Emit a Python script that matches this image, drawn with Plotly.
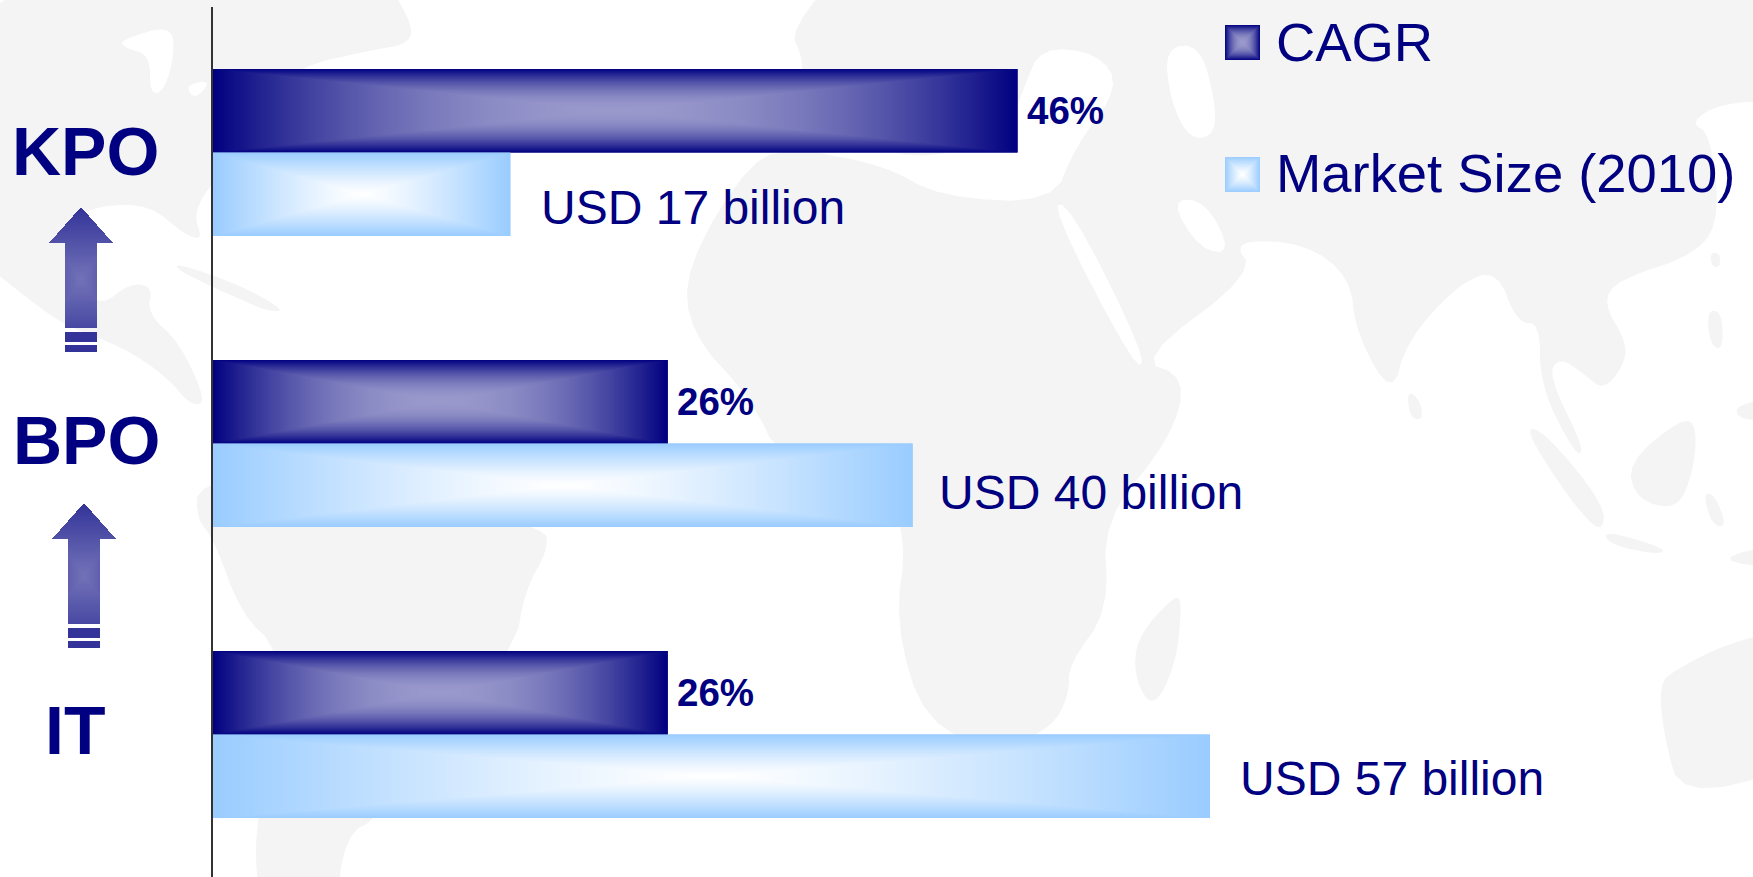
import base64
import struct
import zlib

import numpy as np
import plotly.graph_objects as go

# ---------- data ----------
categories = ["IT", "BPO", "KPO"]
cagr_values = [26, 26, 46]
market_values = [57, 40, 17]
cagr_labels = ["26%", "26%", "46%"]
market_labels = ["USD 57 billion", "USD 40 billion", "USD 17 billion"]
series_names = ["CAGR", "Market Size (2010)"]

# ---------- layout constants ----------
W, H = 1753, 877
PLOT_L, PLOT_T = 213, 7
PX_PER_UNIT = 17.49
BAND_PX = 291
BAR_PX = 83.5
NAVY = "#000080"
FONT = "Liberation Sans"
x_max = (W - PLOT_L) / PX_PER_UNIT
y_top = 2.5
y_bottom = y_top - (H - PLOT_T) / BAND_PX
bargap = 1 - 2 * BAR_PX / BAND_PX
thick = BAR_PX / BAND_PX


def px(x):
    return (x - PLOT_L) / (W - PLOT_L)


def py(y):
    return 1 - (y - PLOT_T) / (H - PLOT_T)


# ---------- png helpers ----------
def png_uri(rgba):
    h, w = rgba.shape[:2]
    raw = b"".join(b"\x00" + rgba[i].tobytes() for i in range(h))

    def chunk(tag, data):
        body = tag + data
        return struct.pack(">I", len(data)) + body + struct.pack(">I", zlib.crc32(body) & 0xffffffff)

    blob = (b"\x89PNG\r\n\x1a\n" + chunk(b"IHDR", struct.pack(">IIBBBBB", w, h, 8, 6, 0, 0, 0))
            + chunk(b"IDAT", zlib.compress(raw, 9)) + chunk(b"IEND", b""))
    return "data:image/png;base64," + base64.b64encode(blob).decode()


def path_gradient(w, h, edge, centre, power=2.0):
    u = np.abs((np.arange(w) + 0.5) / w * 2 - 1)[None, :]
    v = np.abs((np.arange(h) + 0.5) / h * 2 - 1)[:, None]
    t = (np.maximum(u, v) ** power)[..., None]
    rgb = np.array(centre) * (1 - t) + np.array(edge) * t
    a = np.full((h, w, 1), 255.0)
    return np.concatenate([rgb, a], axis=2).round().astype(np.uint8)


def arrow_rgba(w, h, head_h, shaft_hw, shaft_h, s1, s2):
    img = np.zeros((h, w, 4), dtype=float)
    dark, light = np.array([0x33, 0x33, 0x99]), np.array([0x72, 0x72, 0xB8])
    cx = w / 2
    for r in range(h):
        for c in range(w):
            dx = abs(c + 0.5 - cx)
            y = r + 0.5
            inside = False
            if y < head_h:
                inside = dx <= (y / head_h) * cx
            elif y < shaft_h:
                inside = dx <= shaft_hw
            if inside:
                t = abs(y - shaft_h * 0.6) / (shaft_h * 0.6)
                t = max(min(t, 1), dx / cx * 0.6)
                img[r, c, :3] = light * (1 - t) + dark * t
                img[r, c, 3] = 255
            elif (s1[0] <= y < s1[1] or s2[0] <= y < s2[1]) and dx <= shaft_hw:
                img[r, c, :3] = dark
                img[r, c, 3] = 255
    return img.round().astype(np.uint8)


CAGR_EDGE, CAGR_CENTRE = (0, 0, 128), (153, 153, 204)
MKT_EDGE, MKT_CENTRE = (153, 204, 255), (255, 255, 255)
CAGR_POWER, MKT_POWER = 2.0, 1.25

# ---------- traces ----------
fig = go.Figure()
fig.add_trace(go.Bar(name=series_names[1], y=categories, x=market_values, orientation="h",
                     marker=dict(color="#99CCFF", line=dict(width=0)), showlegend=False))
fig.add_trace(go.Bar(name=series_names[0], y=categories, x=cagr_values, orientation="h",
                     marker=dict(color=NAVY, line=dict(width=0)), showlegend=False))

images = []
annots = []

# gradient skins drawn on each bar through the data axes
IMG_H = 84
for i in range(len(categories)):
    images.append(dict(source=png_uri(path_gradient(max(int(round(cagr_values[i] * PX_PER_UNIT)), 2), IMG_H, CAGR_EDGE, CAGR_CENTRE, CAGR_POWER)),
                       xref="x", yref="y", x=0, y=i + thick, sizex=cagr_values[i], sizey=thick,
                       xanchor="left", yanchor="top", sizing="stretch", layer="above"))
    images.append(dict(source=png_uri(path_gradient(max(int(round(market_values[i] * PX_PER_UNIT)), 2), IMG_H, MKT_EDGE, MKT_CENTRE, MKT_POWER)),
                       xref="x", yref="y", x=0, y=i, sizex=market_values[i], sizey=thick,
                       xanchor="left", yanchor="top", sizing="stretch", layer="above"))

# data labels
cagr_shift = [(7, 0), (7, 0), (7, 0)]
market_shift = [(28, -2), (24, -7), (29, -13)]
for i in range(len(categories)):
    annots.append(dict(x=cagr_values[i], y=i + thick / 2, xref="x", yref="y", text=cagr_labels[i],
                       showarrow=False, xanchor="left", yanchor="middle",
                       xshift=cagr_shift[i][0], yshift=cagr_shift[i][1],
                       font=dict(family=FONT, size=38.5, color=NAVY, weight="bold")))
    annots.append(dict(x=market_values[i], y=i - thick / 2, xref="x", yref="y", text=market_labels[i],
                       showarrow=False, xanchor="left", yanchor="middle",
                       xshift=market_shift[i][0], yshift=market_shift[i][1],
                       font=dict(family=FONT, size=48, color=NAVY)))

# category labels
cat_pos = [(75, 5), (86, 4), (85.5, 2)]
for i, cat in enumerate(categories):
    annots.append(dict(x=px(cat_pos[i][0]), y=i, xref="paper", yref="y", text=cat, showarrow=False,
                       xanchor="center", yanchor="middle", yshift=cat_pos[i][1],
                       font=dict(family=FONT, size=68, color=NAVY, weight="bold")))

# legend
legend_rows = [(25, 42, CAGR_EDGE, CAGR_CENTRE, CAGR_POWER), (157, 174, MKT_EDGE, MKT_CENTRE, MKT_POWER)]
for name, (sw_top, text_y, edge, centre, power) in zip(series_names, legend_rows):
    images.append(dict(source=png_uri(path_gradient(35, 35, edge, centre, power)), xref="paper", yref="paper",
                       x=px(1225), y=py(sw_top), sizex=35 / (W - PLOT_L), sizey=35 / (H - PLOT_T),
                       xanchor="left", yanchor="top", sizing="stretch", layer="above"))
    annots.append(dict(x=px(1274), y=py(text_y), xref="paper", yref="paper", text=name, showarrow=False,
                       xanchor="left", yanchor="middle",
                       font=dict(family=FONT, size=54.4, color=NAVY)))

# arrows between tiers
for left, top in [(49, 207), (52, 503)]:
    w, h = 64, 145
    images.append(dict(source=png_uri(arrow_rgba(w, h, 36, 16, 121, (125, 135), (138, 145))),
                       xref="paper", yref="paper", x=px(left), y=py(top),
                       sizex=w / (W - PLOT_L), sizey=h / (H - PLOT_T),
                       xanchor="left", yanchor="top", sizing="stretch", layer="above"))

# ---------- faint world map backdrop ----------
LAND = "#F4F4F4"
land = [
    [(0, 0), (373, 0), (411, 20), (411, 43), (373, 50), (300, 66), (240, 110), (250, 160), (215, 178), (193, 213),
     (203, 240), (185, 235), (150, 205), (100, 205), (55, 225), (83, 280), (100, 307), (130, 283), (153, 287),
     (147, 313), (180, 343), (207, 403), (190, 405), (167, 377), (123, 347), (67, 327), (20, 293), (0, 243)],
    [(177, 263), (240, 285), (285, 310), (270, 312), (230, 295), (177, 270)],
    [(197, 483), (300, 470), (440, 510), (545, 527), (548, 550), (525, 590), (515, 650), (380, 817), (345, 835),
     (335, 877), (262, 877), (255, 860), (258, 817), (270, 730), (280, 650), (241, 614), (213, 537), (197, 520)],
    [(850, 0), (1753, 0), (1753, 100), (1720, 103), (1690, 123), (1710, 133), (1720, 213), (1700, 253), (1617, 280),
     (1603, 303), (1627, 343), (1623, 367), (1603, 390), (1585, 375), (1560, 357), (1548, 375), (1585, 450),
     (1575, 455), (1540, 385), (1540, 323), (1517, 323), (1497, 270), (1460, 283), (1407, 340), (1392, 397),
     (1356, 333), (1350, 277), (1305, 243), (1232, 240), (1255, 273), (1137, 360), (1187, 377), (1170, 440),
     (1103, 520), (1109, 610), (1069, 664), (1069, 694), (1053, 727), (1000, 750), (925, 724), (895, 624),
     (907, 537), (880, 480), (780, 460), (752, 400), (690, 333), (685, 267), (752, 157), (800, 150), (802, 75),
     (802, 57), (790, 30)],
    [(1176, 594), (1137, 637), (1134, 677), (1153, 710), (1176, 664), (1182, 604)],
    [(1659, 684), (1675, 670), (1726, 644), (1753, 627), (1753, 770), (1681, 797), (1664, 737)],
    [(1523, 427), (1545, 432), (1605, 505), (1602, 535), (1570, 500)],
    [(1603, 530), (1665, 548), (1660, 555), (1610, 545)],
    [(1627, 463), (1683, 417), (1697, 427), (1693, 473), (1677, 510), (1637, 500)],
    [(1703, 493), (1715, 495), (1727, 527), (1712, 525)],
    [(1707, 310), (1722, 312), (1723, 350), (1710, 345)],
    [(1710, 253), (1720, 253), (1720, 267), (1712, 267)],
    [(1407, 390), (1420, 400), (1423, 420), (1410, 418)],
    [(1737, 403), (1753, 398), (1753, 422), (1737, 420)],
    [(1710, 560), (1753, 540), (1753, 570)],
]
sea = [
    [(120, 40), (170, 25), (175, 50), (165, 90), (150, 95), (150, 55), (125, 48)],
    [(185, 85), (212, 80), (195, 100)],
    [(800, 150), (884, 165), (940, 197), (1053, 203), (1075, 147), (1120, 87), (1098, 53), (1041, 47), (1024, 87),
     (1008, 133), (930, 160), (860, 145)],
    [(1050, 205), (1070, 205), (1145, 355), (1137, 372)],
    [(1170, 200), (1205, 200), (1232, 253), (1200, 250)],
    [(1165, 47), (1200, 45), (1215, 100), (1215, 135), (1190, 140), (1170, 100)],
]


def smooth(points, rounds=2):
    # push points lying on the frame outwards, then round the outline (Chaikin)
    pts = [(-40 if a <= 0 else W + 40 if a >= W else a, -40 if b <= 0 else H + 40 if b >= H else b) for a, b in points]
    for _ in range(rounds):
        out = []
        for k, (a, b) in enumerate(pts):
            c, d = pts[(k + 1) % len(pts)]
            out.append((0.75 * a + 0.25 * c, 0.75 * b + 0.25 * d))
            out.append((0.25 * a + 0.75 * c, 0.25 * b + 0.75 * d))
        pts = out
    return pts


def poly_shape(points, colour):
    path = "M " + " L ".join(f"{px(a):.5f},{py(b):.5f}" for a, b in smooth(points)) + " Z"
    return dict(type="path", xref="paper", yref="paper", path=path, fillcolor=colour,
                line=dict(width=0), layer="below")


shapes = [poly_shape(p, LAND) for p in land] + [poly_shape(p, "#FFFFFF") for p in sea]

fig.update_layout(
    width=W, height=H, autosize=False,
    margin=dict(l=PLOT_L, r=0, t=PLOT_T, b=0, pad=0),
    paper_bgcolor="white", plot_bgcolor="rgba(0,0,0,0)",
    barmode="group", bargap=bargap, bargroupgap=0,
    showlegend=False, images=images, annotations=annots, shapes=shapes,
    xaxis=dict(range=[0, x_max], visible=False, fixedrange=True),
    yaxis=dict(type="category", categoryorder="array", categoryarray=categories,
               range=[y_bottom, y_top], showticklabels=False, ticks="", showgrid=False, zeroline=False,
               showline=True, linecolor="#333333", linewidth=2, fixedrange=True),
)

fig.write_html("out.html", config=dict(displayModeBar=False),
               post_script="document.body.style.margin='0';document.documentElement.style.overflow='hidden';")
